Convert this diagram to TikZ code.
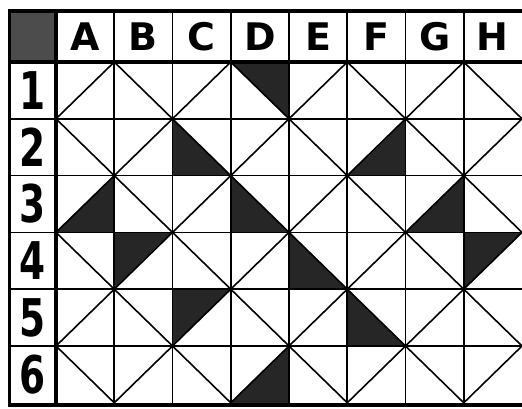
\documentclass[tikz,border=0pt]{standalone}
\usepackage{fontspec}
\setmainfont{DejaVu Sans}
\usepackage{graphicx}

\begin{document}
\begin{tikzpicture}[x=58.25pt,y=-56.8pt,
    gitter/.style={line width=1.6pt},
    dick/.style={line width=3.2pt},
    rahmen/.style={line width=3.6pt},
    feld/.style={fill=black!85},
    kopf/.style={font=\fontsize{38}{38}\selectfont\bfseries},
    zeile/.style={font=\fontsize{52}{52}\selectfont\bfseries}]
    \useasboundingbox (-0.9614,-1.0915) rectangle (8,6.109);

    % Ecke
    \fill[black!70] (-0.8,-0.9) rectangle (0,0);

    % Schwarze Dreiecke
    \fill[feld] (3,0) -- (4,0) -- (4,1) -- cycle;
    \fill[feld] (2,1) -- (2,2) -- (3,2) -- cycle;
    \fill[feld] (6,1) -- (6,2) -- (5,2) -- cycle;
    \fill[feld] (1,2) -- (1,3) -- (0,3) -- cycle;
    \fill[feld] (3,2) -- (3,3) -- (4,3) -- cycle;
    \fill[feld] (7,2) -- (7,3) -- (6,3) -- cycle;
    \fill[feld] (1,3) -- (2,3) -- (1,4) -- cycle;
    \fill[feld] (4,3) -- (4,4) -- (5,4) -- cycle;
    \fill[feld] (7,3) -- (8,3) -- (7,4) -- cycle;
    \fill[feld] (2,4) -- (3,4) -- (2,5) -- cycle;
    \fill[feld] (5,4) -- (5,5) -- (6,5) -- cycle;
    \fill[feld] (4,5) -- (4,6) -- (3,6) -- cycle;

    % Diagonalen
    \begin{scope}
        \clip (0,0) rectangle (8,6);
        \foreach \k in {-5,-3,...,7}
            \draw[gitter] (\k,0) -- (\k+6,6);
        \foreach \s in {1,3,...,13}
            \draw[gitter] (\s,0) -- (\s-6,6);
    \end{scope}

    % Gitternetz
    \foreach \c in {1,...,7}
        \draw[gitter] (\c,-0.9) -- (\c,6.04);
    \foreach \r in {1,...,5}
        \draw[gitter] (-0.8,\r) -- (8,\r);
    \draw[dick] (-0.8,0) -- (8,0);
    \draw[dick] (0,-0.9) -- (0,6.04);
    \draw[rahmen] (8,-0.9) -- (-0.8,-0.9) -- (-0.8,6.04) -- (8,6.04);

    % Spalten
    \foreach \l [count=\i from 0] in {A,B,C,D,E,F,G,H}
        \node[kopf] (spalte\l) at (\i+0.5,-0.44) {\l};

    % Zeilen
    \foreach \z in {1,...,6}
        \node[zeile] (zeile\z) at (-0.41,\z-0.5) {\scalebox{0.72}[1]{\z}};
\end{tikzpicture}
\end{document}
